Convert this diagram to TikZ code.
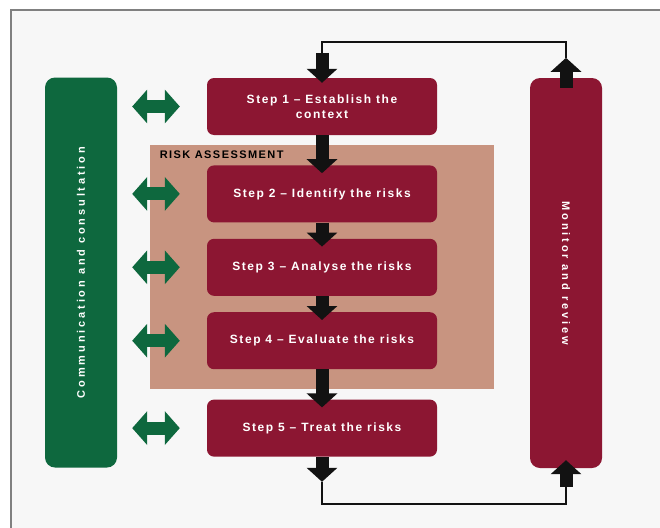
\documentclass[tikz,border=0pt]{standalone}
\usepackage{fontspec}
\setmainfont{Liberation Sans}
\newfontfamily\stepfont{Liberation Sans}[LetterSpace=13]
\newfontfamily\sidefont{Liberation Sans}[LetterSpace=26]
\usepackage{tikz}
\usetikzlibrary{arrows.meta, positioning, fit, backgrounds}
\definecolor{stepred}{RGB}{140,22,50}
\definecolor{commgreen}{RGB}{14,104,62}
\definecolor{risktan}{RGB}{200,148,128}
\definecolor{framegray}{RGB}{128,128,128}
\definecolor{pagegray}{RGB}{247,247,247}
\definecolor{arrowblack}{RGB}{18,18,18}

\begin{document}
\begin{tikzpicture}[
  x=1pt, y=-1pt,
  stepbox/.style={
    fill=stepred, rounded corners=7pt,
    minimum width=230pt, minimum height=57pt, inner sep=2pt,
    text=white, font=\stepfont\bfseries\fontsize{12}{15}\selectfont,
    align=center
  },
  sidebar/.style={
    fill=#1, rounded corners=10pt,
    minimum width=72pt, minimum height=390pt, inner sep=0pt
  },
  sidetext/.style={text=white, font=\sidefont\bfseries\fontsize{11}{13}\selectfont},
  riskbox/.style={fill=risktan, inner xsep=57pt, inner ysep=20pt},
  risklabel/.style={font=\stepfont\bfseries\fontsize{11}{13}\selectfont, inner sep=0pt},
  flowarrow/.style={line width=13pt, color=arrowblack,
    -{Triangle[width=30pt, length=14pt]}},
  loopline/.style={line width=2.5pt, color=arrowblack},
  commarrow/.style={line width=13pt, color=commgreen,
    {Triangle[width=33pt, length=15pt]}-{Triangle[width=33pt, length=15pt]},
    shorten <=15pt, shorten >=27pt},
]
\useasboundingbox (0,0) rectangle (660,527);

\node[stepbox] (step1) at (322,106.5) {Step 1 – Establish the\\context};
\node[stepbox, below=30pt of step1] (step2) {Step 2 – Identify the risks};
\node[stepbox, below=16pt of step2] (step3) {Step 3 – Analyse the risks};
\node[stepbox, below=16pt of step3] (step4) {Step 4 – Evaluate the risks};
\node[stepbox, below=30pt of step4] (step5) {Step 5 – Treat the risks};

\node[sidebar=commgreen] (comm) at (81,272.5)
  {};
\node[sidetext, rotate=90] (commtext) at (comm.center) {Communication and consultation};
\node[sidebar=stepred] (monitor) at (566,273) {};
\node[sidetext, rotate=-90] (montext) at (monitor.center) {Monitor and review};

\begin{scope}[on background layer]
  \draw[framegray, line width=2pt, fill=pagegray] (11,10) rectangle (664,531);
  \node[riskbox, fit=(step2)(step4)] (risk) {};
\end{scope}
\node[risklabel, anchor=north west] (risktitle)
  at ([xshift=10pt, yshift=-6pt]risk.north west) {RISK ASSESSMENT};

% main flow
\foreach \a/\b in {1/2, 2/3, 3/4, 4/5}
  \draw[flowarrow] (step\a.south) -- ([yshift=-8pt]step\b.north);

% communication links
\foreach \n in {1,...,5}
  \draw[commarrow] (comm.east |- step\n) -- (step\n.west);

% monitoring loop
\draw[flowarrow] ([yshift=-10pt]monitor.north) -- ([yshift=20pt]monitor.north);
\draw[loopline] ([yshift=20pt]monitor.north) -- ([yshift=36pt]monitor.north)
  -| ([yshift=25pt]step1.north);
\draw[flowarrow] ([yshift=25pt]step1.north) -- ([yshift=-5pt]step1.north);

\draw[flowarrow] (step5.south) -- ([yshift=-25pt]step5.south);
\draw[loopline] ([yshift=-25pt]step5.south) -- ([yshift=-47pt]step5.south)
  -| ([yshift=-19pt]monitor.south);
\draw[flowarrow] ([yshift=-19pt]monitor.south) -- ([yshift=8pt]monitor.south);

\end{tikzpicture}
\end{document}
